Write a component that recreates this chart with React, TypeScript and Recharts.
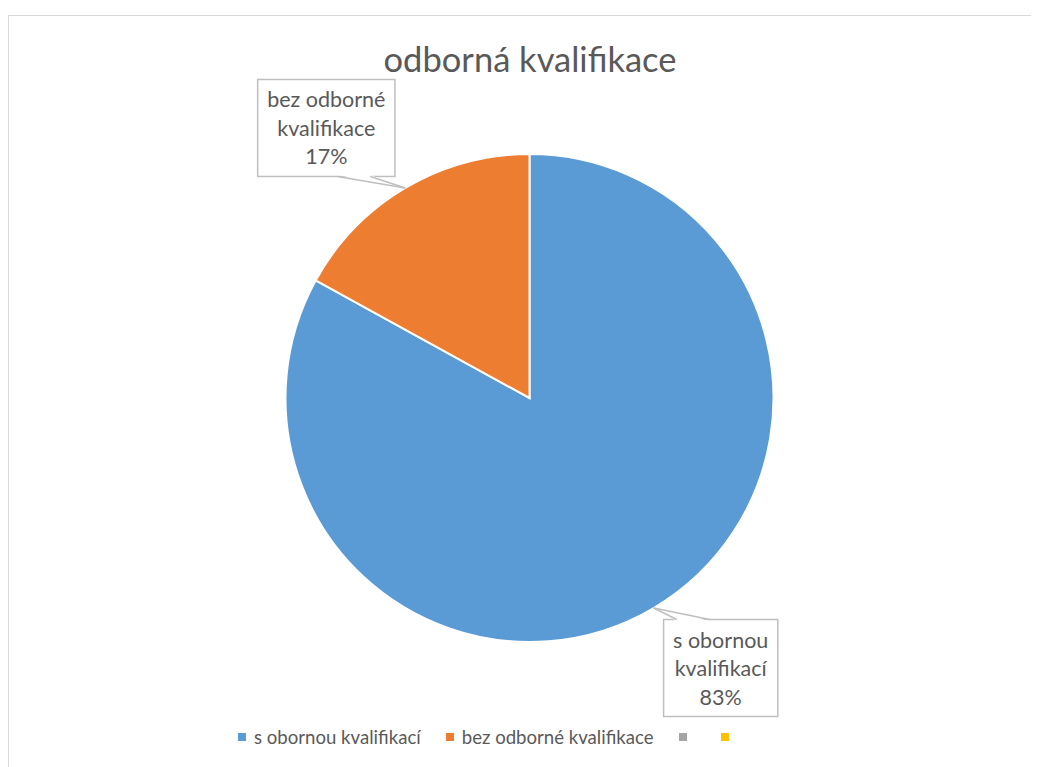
import { Cell, Legend, Pie, PieChart } from "recharts";

const categories = ["s obornou kvalifikací", "bez odborné kvalifikace", "", ""];
const shares = [83, 17, 0, 0];
const colors = ["#5b9bd5", "#ed7d31", "#a5a5a5", "#ffc000"];
const chartTitle = "odborná kvalifikace";

const FONT = "Lato, 'Open Sans', sans-serif";
const RADIAN = Math.PI / 180;
const CX = 520.5;
const CY = 382;
const R = 244;

const data = categories.map((name, i) => ({ name, value: shares[i] }));
const total = shares.reduce((a, b) => a + b, 0);

// mid angle of each slice, clockwise from 12 o'clock
function midAngleOf(index: number) {
  const before = shares.slice(0, index).reduce((a, b) => a + b, 0);
  return 90 - (360 * (before + shares[index] / 2)) / total;
}

let ctx: CanvasRenderingContext2D | null = null;
function textWidth(s: string, size: number) {
  if (!ctx) ctx = document.createElement("canvas").getContext("2d");
  if (!ctx) return s.length * size * 0.5;
  ctx.font = `${size}px Lato`;
  return ctx.measureText(s).width;
}

function CalloutLabel(props: any) {
  const { index, percent, name, value } = props;
  if (!value || !name) return null;
  const mid = midAngleOf(index);
  const cos = Math.cos(-mid * RADIAN);
  const sin = Math.sin(-mid * RADIAN);
  const tipX = CX + R * cos;
  const tipY = CY + R * sin;
  const sx = cos >= 0 ? 1 : -1;
  const sy = sin >= 0 ? 1 : -1;
  const bx = tipX + sx * (cos >= 0 ? 67 : 79);
  const by = tipY + sy * 60;

  const cut = name.lastIndexOf(" ");
  const lines = [name.slice(0, cut), name.slice(cut + 1), `${Math.round(percent * 100)}%`];
  const fs = 21.5;
  const w = Math.max(...lines.map((l) => textWidth(l, fs))) + 19;
  const h = 97;
  const left = bx - w / 2;
  const top = by - h / 2;
  const edgeY = sy > 0 ? top : top + h;
  const b1 = bx - sx * 11;
  const b2 = bx - sx * 44;

  return (
    <g>
      <rect x={left} y={top} width={w} height={h} fill="#fff" stroke="#bfbfbf" strokeWidth={1.5} />
      <path
        d={`M${b1},${edgeY + sy * 1.5} L${tipX},${tipY} L${b2},${edgeY + sy * 1.5} Z`}
        fill="#fff"
        stroke="none"
      />
      <line x1={b1} y1={edgeY} x2={tipX} y2={tipY} stroke="#bfbfbf" strokeWidth={1.5} />
      <line x1={b2} y1={edgeY} x2={tipX} y2={tipY} stroke="#bfbfbf" strokeWidth={1.5} />
      {lines.map((l, i) => (
        <text
          key={i}
          x={bx}
          y={by + (i - 1) * 28.5}
          textAnchor="middle"
          dominantBaseline="central"
          fill="#595959"
          fontSize={fs}
          fontFamily={FONT}
        >
          {l}
        </text>
      ))}
    </g>
  );
}

function LegendRow() {
  return (
    <div
      style={{
        display: "flex",
        alignItems: "center",
        paddingLeft: 229,
        fontFamily: FONT,
        fontSize: 18.6,
        color: "#595959",
        lineHeight: "22px",
      }}
    >
      {categories.map((c, i) => (
        <div key={i} style={{ display: "flex", alignItems: "center", marginRight: c ? 25 : 26 }}>
          <span style={{ width: 8, height: 8, background: colors[i], marginRight: 8 }} />
          <span>{c}</span>
        </div>
      ))}
    </div>
  );
}

export default function App() {
  return (
    <div style={{ paddingTop: 7, width: 1031, height: 752, overflow: "hidden" }}>
      <div
        style={{
          position: "relative",
          width: 1100,
          height: 800,
          border: "1.5px solid #d9d9d9",
          boxSizing: "border-box",
          background: "#fff",
        }}
      >
        <div
          style={{
            position: "absolute",
            top: 22,
            left: 0,
            width: 1042,
            textAlign: "center",
            fontFamily: FONT,
            fontSize: 34.5,
            color: "#595959",
          }}
        >
          {chartTitle}
        </div>
        <PieChart
          width={1031}
          height={752}
          margin={{ top: 0, right: 0, bottom: 0, left: 0 }}
          style={{ position: "absolute", top: 0, left: 0 }}
        >
          <Pie
            data={data}
            dataKey="value"
            nameKey="name"
            cx={CX}
            cy={CY}
            outerRadius={R}
            startAngle={90}
            endAngle={-270}
            stroke="#fff"
            strokeWidth={2}
            label={CalloutLabel}
            labelLine={false}
            isAnimationActive={false}
          >
            {data.map((d, i) => (
              <Cell key={d.name + i} fill={colors[i]} />
            ))}
          </Pie>
          <Legend
            content={() => <LegendRow />}
            wrapperStyle={{ position: "absolute", top: 710, left: 0, width: 1031 }}
          />
        </PieChart>
      </div>
    </div>
  );
}
